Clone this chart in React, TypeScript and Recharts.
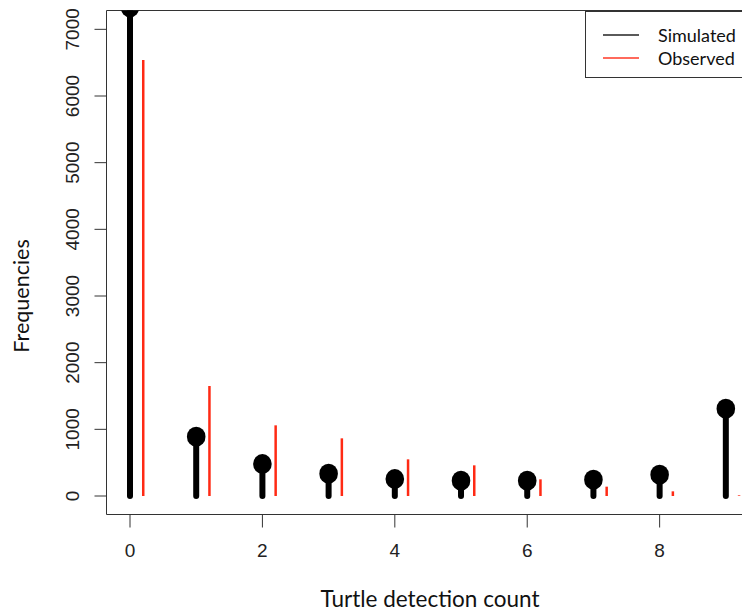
import React from 'react';
import {
  ScatterChart,
  XAxis,
  YAxis,
  Scatter,
  ReferenceLine,
  ReferenceArea,
  Legend,
} from 'recharts';

// ---- data ----
const counts = [0, 1, 2, 3, 4, 5, 6, 7, 8, 9];
const simulated = [7330, 890, 480, 335, 255, 230, 230, 245, 320, 1310];
const observed = [6540, 1650, 1060, 865, 550, 460, 250, 140, 70, 10];
const xTicks = [0, 2, 4, 6, 8];
const yTicks = [0, 1000, 2000, 3000, 4000, 5000, 6000, 7000];
const seriesNames = ['Simulated', 'Observed'];
const xTitle = 'Turtle detection count';
const yTitle = 'Frequencies';

// ---- layout / style ----
const X_DOMAIN: [number, number] = [-0.355, 9.569];
const Y_DOMAIN: [number, number] = [-277.5, 7282.5];
const OBS_OFFSET = 0.2;
const SIM_COLOR = '#000000';
const OBS_COLOR = '#ff2a14';
const AXIS_COLOR = '#333333';
const TICK_FONT = '"Liberation Sans", Arial, sans-serif';
const TITLE_FONT = 'Lato, "Open Sans", sans-serif';
const TICK_SIZE = 19;

const simPoints = counts.map((c, i) => ({ x: c, y: simulated[i] }));

const XTick = (props: any) => {
  const { x, y, payload } = props;
  return (
    <text x={x} y={y} textAnchor="middle" dy={13.6} fontSize={TICK_SIZE} fontFamily={TICK_FONT} fill="#222">
      {payload.value}
    </text>
  );
};

const YTick = (props: any) => {
  const { x, y, payload } = props;
  return (
    <text
      x={x}
      y={y}
      transform={`rotate(-90 ${x} ${y})`}
      textAnchor="middle"
      fontSize={TICK_SIZE}
      fontFamily={TICK_FONT}
      fill="#222"
    >
      {payload.value}
    </text>
  );
};

const XTitle = () => (
  <text x={430} y={607} textAnchor="middle" fontSize={22.5} fontFamily={TITLE_FONT} fill="#111">
    {xTitle}
  </text>
);

const YTitle = () => (
  <text
    x={29}
    y={296}
    transform="rotate(-90 29 296)"
    textAnchor="middle"
    fontSize={21.5}
    fontFamily={TITLE_FONT}
    fill="#111"
  >
    {yTitle}
  </text>
);

const Dot = (props: any) => {
  const { cx, cy } = props;
  return <ellipse cx={cx} cy={cy} rx={9.3} ry={10} fill={SIM_COLOR} />;
};

const LegendBox = () => {
  const colors = ['#5a5a5a', '#ff6a5c'];
  return (
    <div
      style={{
        width: 200,
        height: 67,
        border: `1px solid ${AXIS_COLOR}`,
        background: '#fff',
        boxSizing: 'border-box',
        position: 'relative',
      }}
    >
      {seriesNames.map((name, i) => (
        <div
          key={name}
          style={{
            position: 'absolute',
            left: 17,
            top: 12 + i * 23,
            height: 22,
            display: 'flex',
            alignItems: 'center',
            fontFamily: TITLE_FONT,
            fontSize: 18,
            color: '#111',
            whiteSpace: 'nowrap',
          }}
        >
          <span style={{ display: 'inline-block', width: 36, height: 2, background: colors[i], marginRight: 19 }} />
          {name}
        </div>
      ))}
    </div>
  );
};

export default function App() {
  return (
    <div
      style={{
        position: 'fixed',
        left: 0,
        top: 0,
        width: 742,
        height: 611,
        overflow: 'hidden',
        background: '#fff',
      }}
    >
      <ScatterChart width={800} height={611} margin={{ top: 10.5, right: 36.5, bottom: 0, left: 0 }}>
        <XAxis
          type="number"
          dataKey="x"
          domain={X_DOMAIN}
          ticks={xTicks}
          allowDataOverflow
          axisLine={false}
          tickLine={{ stroke: AXIS_COLOR, strokeWidth: 1 }}
          tickSize={13}
          tickMargin={16}
          tick={<XTick />}
          height={96.5}
          interval={0}
        />
        <YAxis
          type="number"
          dataKey="y"
          domain={Y_DOMAIN}
          ticks={yTicks}
          allowDataOverflow
          axisLine={false}
          tickLine={{ stroke: AXIS_COLOR, strokeWidth: 1 }}
          tickSize={12}
          tickMargin={15.7}
          tick={<YTick />}
          width={106.5}
          interval={0}
        />
        <ReferenceArea
          x1={X_DOMAIN[0]}
          x2={X_DOMAIN[1]}
          y1={Y_DOMAIN[0]}
          y2={Y_DOMAIN[1]}
          fill="none"
          fillOpacity={0}
          stroke={AXIS_COLOR}
          strokeWidth={1}
          ifOverflow="visible"
        />
        {counts.map((c, i) => (
          <ReferenceLine
            key={`sim-${c}`}
            segment={[
              { x: c, y: 0 },
              { x: c, y: simulated[i] },
            ]}
            stroke={SIM_COLOR}
            strokeWidth={6}
            strokeLinecap="round"
            ifOverflow="hidden"
          />
        ))}
        {counts.map((c, i) => (
          <ReferenceLine
            key={`obs-${c}`}
            segment={[
              { x: c + OBS_OFFSET, y: 0 },
              { x: c + OBS_OFFSET, y: observed[i] },
            ]}
            stroke={OBS_COLOR}
            strokeWidth={2.5}
            ifOverflow="hidden"
          />
        ))}
        <Scatter data={simPoints} shape={<Dot />} isAnimationActive={false} name="Simulated" />
        <Legend
          layout="horizontal"
          align="center"
          verticalAlign="middle"
          content={<LegendBox />}
          wrapperStyle={{ position: 'absolute', left: 585, top: 10.5, width: 200, height: 67 }}
        />
        <XTitle />
        <YTitle />
      </ScatterChart>
    </div>
  );
}
